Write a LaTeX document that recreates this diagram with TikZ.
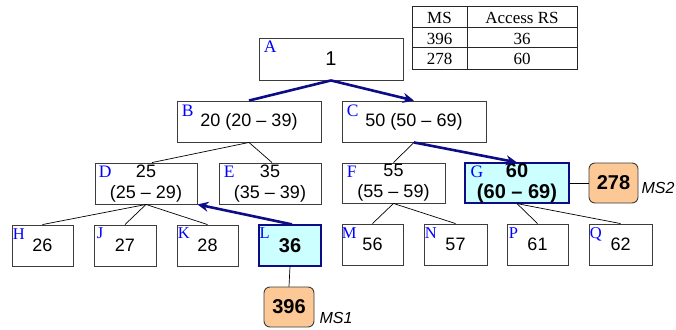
\documentclass[tikz,border=0pt]{standalone}
\usepackage{fontspec}
\setmainfont{Liberation Serif}
\newfontfamily\arialf{Liberation Sans}
\usetikzlibrary{arrows.meta}
\definecolor{navyc}{RGB}{12,12,135}
\definecolor{labblue}{RGB}{0,0,255}
\definecolor{cyanfill}{RGB}{204,255,255}
\definecolor{peach}{RGB}{252,200,150}
\definecolor{boxgray}{RGB}{60,60,60}
\begin{document}
\begin{tikzpicture}[x=1pt,y=-1pt,
  box/.style={draw=boxgray, line width=0.9pt, inner sep=0pt, align=center,
    font=\arialf\fontsize{18}{21}\selectfont},
  hl/.style={box, draw=navyc, fill=cyanfill, line width=1.2pt,
    font=\arialf\bfseries\fontsize{20}{21}\selectfont},
  msbox/.style={draw=boxgray, fill=peach, rounded corners=6pt, line width=0.9pt,
    inner sep=0pt, font=\arialf\bfseries\fontsize{20}{24}\selectfont},
  lab/.style={text=labblue, inner sep=0pt, anchor=base west,
    font=\fontsize{17.5}{19}\selectfont},
  labs/.style={lab, font=\fontsize{16.5}{18}\selectfont},
  note/.style={inner sep=0pt, anchor=base west, font=\arialf\itshape\fontsize{16}{18}\selectfont},
  cell/.style={inner sep=0pt, font=\fontsize{17}{19}\selectfont},
  thinline/.style={line width=0.7pt, black},
  hopline/.style={line width=2.6pt, navyc},
  hop/.style={hopline, -{Stealth[length=11pt,width=10pt]}},
  tabline/.style={line width=1pt, black!85}
]
\useasboundingbox (0,0) rectangle (676,329);

% table
\draw[tabline] (412,7) rectangle (577,69);
\draw[tabline] (412,28) -- (577,28);
\draw[tabline] (412,48) -- (577,48);
\draw[tabline] (467,7) -- (467,69);
\node[cell] (tMS) at (439.5,18) {MS};
\node[cell] (tAR) at (522,18) {Access RS};
\node[cell] (t1a) at (439.5,38.5) {396};
\node[cell] (t1b) at (522,38.5) {36};
\node[cell] (t2a) at (439.5,59) {278};
\node[cell] (t2b) at (522,59) {60};

% tree nodes
\node[box, minimum width=144, minimum height=42, font=\arialf\fontsize{20}{22}\selectfont] (A) at (331,59) {1};
\node[box, minimum width=144, minimum height=41] (B) at (249,121.5) {20 (20 – 39)};
\node[box, minimum width=144, minimum height=41] (C) at (414,121.5) {50 (50 – 69)};
\node[box, minimum width=102, minimum height=41] (D) at (146,183.5) {25\\(25 – 29)};
\node[box, minimum width=102, minimum height=41] (E) at (270,183.5) {35\\(35 – 39)};
\node[box, minimum width=103, minimum height=40] (F) at (393.5,183) {55\\(55 – 59)};
\node[hl, minimum width=104, minimum height=40] (G) at (517,183) {60\\(60 – 69)};

\node[box, minimum width=61, minimum height=41] (H) at (42.5,245.5) {26};
\node[box, minimum width=62, minimum height=41] (J) at (125,245.5) {27};
\node[box, minimum width=61, minimum height=41] (K) at (207.5,245.5) {28};
\node[hl, minimum width=62, minimum height=41] (L) at (290,245.5) {36};
\node[box, minimum width=61, minimum height=41] (M) at (372.5,244.5) {56};
\node[box, minimum width=63, minimum height=41] (N) at (455.5,244.5) {57};
\node[box, minimum width=61, minimum height=41] (P) at (537.5,244.5) {61};
\node[box, minimum width=63, minimum height=41] (Q) at (620.5,244.5) {62};

\node[msbox, minimum width=49, minimum height=40] (ms278) at (613.5,183) {278};
\node[msbox, minimum width=50, minimum height=40] (ms396) at (289,307) {396};
\node[note] (n2) at ([shift={(3,10)}]ms278.east) {MS2};
\node[note] (n1) at ([shift={(5,16)}]ms396.east) {MS1};

% letter labels
\node[lab] (lA) at ([shift={(5,15)}]A.north west) {A};
\node[lab] (lB) at ([shift={(5,16)}]B.north west) {B};
\node[lab] (lC) at ([shift={(5,16)}]C.north west) {C};
\node[lab] (lD) at ([shift={(4,15)}]D.north west) {D};
\node[lab] (lE) at ([shift={(5,15)}]E.north west) {E};
\node[lab] (lF) at ([shift={(5,15)}]F.north west) {F};
\node[lab] (lG) at ([shift={(6,15)}]G.north west) {G};
\node[labs] (lH) at ([shift={(1,15)}]H.north west) {H};
\node[labs] (lJ) at ([shift={(3,14)}]J.north west) {J};
\node[labs] (lK) at ([shift={(1,14)}]K.north west) {K};
\node[labs] (lL) at ([shift={(1,14)}]L.north west) {L};
\node[labs] (lM) at ([shift={(0,15)}]M.north west) {M};
\node[labs] (lN) at ([shift={(1,15)}]N.north west) {N};
\node[labs] (lP) at ([shift={(2,15)}]P.north west) {P};
\node[labs] (lQ) at ([shift={(1,15)}]Q.north west) {Q};

% thin connectors
\draw[thinline] (B.south) -- ([xshift=6]D.north);
\draw[thinline] (B.south) -- ([xshift=2]E.north);
\draw[thinline] (C.south) -- (F.north);
\draw[thinline] (D.south) -- (H.north);
\draw[thinline] (D.south) -- (J.north);
\draw[thinline] (D.south) -- (K.north);
\draw[thinline] (F.south) -- (M.north);
\draw[thinline] (F.south) -- (N.north);
\draw[thinline] (G.south) -- (P.north);
\draw[thinline] (G.south) -- (Q.north);
\draw[thinline] (G.east) -- (ms278.west);
\draw[thinline] (L.south) -- (ms396.north);

% thick path
\draw[hopline] (A.south) -- (B.north);
\draw[hop] (A.south) -- (C.north);
\draw[hop] (C.south) -- (G.north);
\draw[hop] ([xshift=2]L.north) -- (D.south east);
\end{tikzpicture}
\end{document}
